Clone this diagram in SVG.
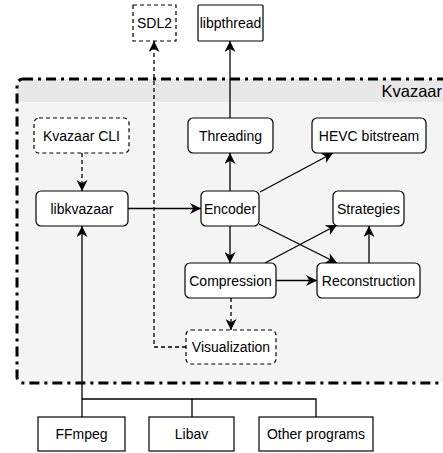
<svg xmlns="http://www.w3.org/2000/svg" width="443" height="453" viewBox="0 0 443 453">
<style>
  text { font-family: "Liberation Sans", Arial, sans-serif; font-size: 14px; fill: #000; text-anchor: middle; }
  .n { fill: #fff; stroke: #000; stroke-width: 1.2; }
  .i { fill: #fff; stroke: #000; stroke-width: 1.2; }
  .d { stroke-dasharray: 4 3; }
  .e { fill: none; stroke: #000; stroke-width: 1.3; }
</style>
<defs>
  <marker id="a" viewBox="0 0 10 10" refX="10" refY="5" markerWidth="11" markerHeight="11" markerUnits="userSpaceOnUse" orient="auto">
    <path d="M0,0 L10,5 L0,10 L3,5 Z" fill="#000"/>
  </marker>
</defs>

<g id="kvazaar">
  <rect x="17" y="79" width="440" height="304" rx="6" fill="#f4f4f4"/>
  <path d="M17,102 L17,85 Q17,79 23,79 L457,79 L457,102 Z" fill="#e8e8e8"/>
  <rect x="17" y="79" width="440" height="304" rx="6" fill="none" stroke="#000" stroke-width="3" stroke-dasharray="10 5 3 5"/>
  <text x="442" y="97" style="text-anchor:end;font-size:16.5px">Kvazaar</text>
</g>

<g id="connectors">
  <path class="e d" d="M186,347 L154,347 L154,41" marker-end="url(#a)"/>
  <path class="e" d="M230,118 L230,41" marker-end="url(#a)"/>
  <path class="e d" d="M82,153 L82,191" marker-end="url(#a)"/>
  <path class="e" d="M128,208.5 L201,208.5" marker-end="url(#a)"/>
  <path class="e" d="M230,191 L230,153" marker-end="url(#a)"/>
  <path class="e" d="M260,192 L333,153" marker-end="url(#a)"/>
  <path class="e" d="M259,224 L337,263" marker-end="url(#a)"/>
  <path class="e" d="M265,263 L337,225" marker-end="url(#a)"/>
  <path class="e" d="M369,263 L369,226" marker-end="url(#a)"/>
  <path class="e" d="M230,226 L230,263" marker-end="url(#a)"/>
  <path class="e" d="M276,280.5 L317,280.5" marker-end="url(#a)"/>
  <path class="e d" d="M231,298 L231,330" marker-end="url(#a)"/>
  <path class="e" d="M82,417 L82,226" marker-end="url(#a)"/>
  <path class="e" d="M82,399 L316,399 L316,417"/>
  <path class="e" d="M192,399 L192,417"/>
</g>

<g id="sdl2"><rect class="n d" x="133" y="5" width="43" height="36"/><text x="154.5" y="28">SDL2</text></g>
<g id="libpthread"><rect class="n" x="198" y="5" width="65" height="36" rx="1"/><text x="230.5" y="28">libpthread</text></g>
<g id="kvazaar-cli"><rect class="i d" x="34" y="118" width="95" height="35" rx="5"/><text x="81.5" y="141">Kvazaar CLI</text></g>
<g id="threading"><rect class="i" x="188" y="118" width="85" height="35" rx="5"/><text x="230.5" y="141">Threading</text></g>
<g id="hevc"><rect class="i" x="312" y="118" width="114" height="35" rx="5"/><text x="369" y="141">HEVC bitstream</text></g>
<g id="libkvazaar"><rect class="i" x="36" y="191" width="92" height="35" rx="5"/><text x="82" y="214">libkvazaar</text></g>
<g id="encoder"><rect class="i" x="201" y="191" width="58" height="35" rx="5"/><text x="230" y="214">Encoder</text></g>
<g id="strategies"><rect class="i" x="333" y="191" width="71" height="35" rx="5"/><text x="368.5" y="214">Strategies</text></g>
<g id="compression"><rect class="i" x="185" y="263" width="91" height="35" rx="5"/><text x="230.5" y="286">Compression</text></g>
<g id="reconstruction"><rect class="i" x="317" y="263" width="103" height="35" rx="5"/><text x="368.5" y="286">Reconstruction</text></g>
<g id="visualization"><rect class="i d" x="186" y="330" width="90" height="34" rx="5"/><text x="231" y="352">Visualization</text></g>
<g id="ffmpeg"><rect class="n" x="38" y="417" width="87" height="34"/><text x="81.5" y="439">FFmpeg</text></g>
<g id="libav"><rect class="n" x="149" y="417" width="85" height="34"/><text x="191.5" y="439">Libav</text></g>
<g id="other"><rect class="n" x="259" y="417" width="114" height="34"/><text x="316" y="439">Other programs</text></g>
</svg>
